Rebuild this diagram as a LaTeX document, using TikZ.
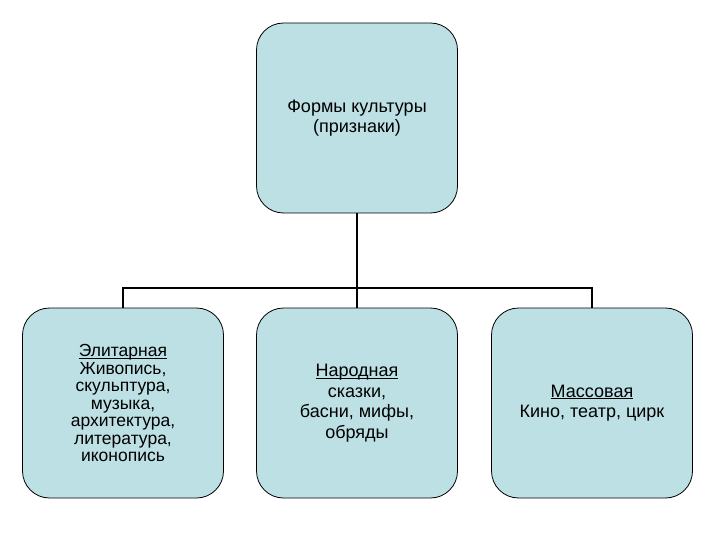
\documentclass[tikz,border=0pt]{standalone}
\usepackage{fontspec}
\setmainfont{Liberation Sans}
\usepackage{xcolor}
\definecolor{boxblue}{RGB}{189,224,229}
\newcommand{\ulword}[1]{\setbox0\hbox{#1}\leavevmode\rlap{\rule[-2pt]{\wd0}{0.8pt}}\box0}

\begin{document}
\begin{tikzpicture}[x=1pt, y=1pt, every node/.style={draw, rounded corners=27pt, align=center, fill=boxblue, line width=0.8pt, font=\fontsize{18}{20.5}\selectfont, minimum width=201pt, minimum height=190pt, inner sep=0pt}]
				\useasboundingbox (0,0) rectangle (720,-540);
				\node (forms) at (357,-118) {Формы культуры\\(признаки)};
				\node (elite) at (123,-403) [font=\fontsize{17.5}{17.5}\selectfont] {\ulword{Элитарная}\\Живопись,\\скульптура,\\музыка,\\архитектура,\\литература,\\иконопись};
				\node (folk) at (357,-403) {\ulword{Народная}\\сказки,\\басни, мифы,\\обряды};
				\node (mass) at (592,-403) {\ulword{Массовая}\\Кино, театр, цирк};
				\coordinate (bus) at (357,-288);
				
				\draw[line width=2.5pt] (forms) -- (bus);
				\draw[line width=2.5pt] (elite) -- ++(0,115) -| (mass);
				\draw[line width=2.5pt] (bus) -- (folk);
			\end{tikzpicture}
\end{document}
